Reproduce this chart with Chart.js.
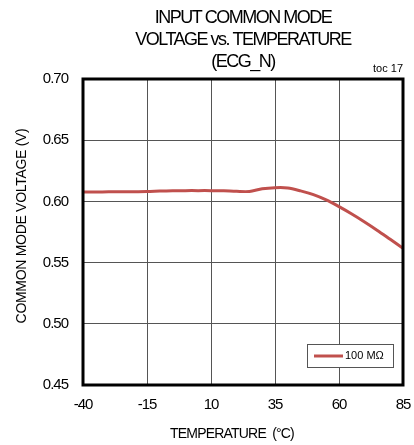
<!DOCTYPE html>
<html>
<head>
<meta charset="utf-8">
<script src="https://cdn.jsdelivr.net/npm/chart.js@4.4.1/dist/chart.umd.min.js"></script>
<style>
  html, body { margin: 0; padding: 0; background: #fff; }
  #wrap { width: 414px; height: 445px; }
</style>
</head>
<body>
<div id="wrap"><canvas id="chart" width="414" height="445"></canvas></div>
<script>
// ---- data ----
const titleLines = ['INPUT COMMON MODE', 'VOLTAGE vs. TEMPERATURE', '(ECG_N)'];
const tocLabel = 'toc 17';
const xTitle = 'TEMPERATURE  (°C)';
const yTitle = 'COMMON MODE VOLTAGE (V)';
const seriesLabel = '100 MΩ';

const xTicks = [-40, -15, 10, 35, 60, 85];
const yTicks = [0.45, 0.50, 0.55, 0.60, 0.65, 0.70];

// temperature (°C)
const temps = [-40, -35, -30, -25, -20, -15, -10, -5, 0, 5, 10, 15, 20, 25,
               30, 35, 40, 45, 50, 55, 60, 65, 70, 75, 80, 85];
// common mode voltage (V)
const vcm = [0.6077, 0.6077, 0.6078, 0.6078, 0.6079, 0.6080, 0.6084, 0.6087,
             0.6088, 0.6088, 0.6088, 0.6086, 0.6082, 0.6081, 0.6103, 0.6112,
             0.6110, 0.6086, 0.6055, 0.6012, 0.5957, 0.5897, 0.5832, 0.5763,
             0.5690, 0.5617];

const FONT = '"Liberation Sans", Arial, sans-serif';
const LINE_COLOR = '#c0504d';

// texte avec espacement serré (police condensée dans l'original)
function text(ctx, str, x, y, size, spacing, align) {
  ctx.save();
  ctx.font = size + 'px ' + FONT;
  ctx.letterSpacing = spacing + 'px';
  ctx.fillStyle = '#000';
  ctx.textAlign = align || 'center';
  ctx.textBaseline = 'middle';
  ctx.fillText(str, x, y);
  ctx.restore();
}

const decor = {
  id: 'decor',
  beforeDraw(chart) {
    chart.ctx.letterSpacing = '-1px'; // tick labels
  },
  afterDatasetsDraw(chart) {
    const { ctx, chartArea: a } = chart;
    ctx.save();
    ctx.strokeStyle = '#000';
    ctx.lineWidth = 3;
    ctx.strokeRect(a.left, a.top, a.right - a.left, a.bottom - a.top);
    ctx.restore();
  },
  afterDraw(chart) {
    const { ctx, chartArea: a } = chart;
    const cx = (a.left + a.right) / 2;

    // titre
    text(ctx, titleLines[0], cx, 18, 18, -1.5);
    text(ctx, titleLines[1], cx, 40, 18, -1.5);
    text(ctx, titleLines[2], cx, 62, 18, -1.5);
    text(ctx, tocLabel, a.right, 69, 11, 0, 'right');

    // axis titles
    text(ctx, xTitle, 232, 434, 14, -0.8);
    ctx.save();
    ctx.translate(22, 226);
    ctx.rotate(-Math.PI / 2);
    text(ctx, yTitle, 0, 0, 14, -0.3);
    ctx.restore();

    // legend inside plot
    const ds = chart.data.datasets[0];
    const bx = a.right - 96, by = a.bottom - 41, bw = 86, bh = 23;
    ctx.save();
    ctx.fillStyle = '#fff';
    ctx.fillRect(bx, by, bw, bh);
    ctx.strokeStyle = '#555';
    ctx.lineWidth = 1;
    ctx.strokeRect(bx + 0.5, by + 0.5, bw, bh);
    ctx.strokeStyle = ds.borderColor;
    ctx.lineWidth = 3;
    ctx.beginPath();
    ctx.moveTo(bx + 7, by + 12);
    ctx.lineTo(bx + 36, by + 12);
    ctx.stroke();
    ctx.restore();
    text(ctx, ds.label, bx + 38, by + 12, 11, 0, 'left');
  }
};

new Chart(document.getElementById('chart'), {
  type: 'line',
  data: {
    datasets: [{
      label: seriesLabel,
      data: temps.map((t, i) => ({ x: t, y: vcm[i] })),
      borderColor: LINE_COLOR,
      borderWidth: 3,
      pointRadius: 0,
      tension: 0.3,
      fill: false
    }]
  },
  options: {
    responsive: false,
    animation: false,
    devicePixelRatio: 1,
    layout: { padding: { top: 79, right: 11, left: 0, bottom: 0 } },
    plugins: {
      legend: { display: false },
      title: { display: false },
      tooltip: { enabled: false }
    },
    scales: {
      x: {
        type: 'linear',
        min: -40,
        max: 85,
        afterBuildTicks: s => { s.ticks = xTicks.map(v => ({ value: v })); },
        // no label overflow padding: plot edges fixed by layout padding
        afterFit: s => { s.height = 60; s.paddingLeft = 0; s.paddingRight = 0; },
        ticks: { color: '#000', font: { family: FONT, size: 15 }, padding: 11 },
        grid: { color: '#555', lineWidth: 1, drawTicks: false },
        border: { display: false }
      },
      y: {
        min: 0.45,
        max: 0.70,
        afterBuildTicks: s => { s.ticks = yTicks.map(v => ({ value: v })); },
        afterFit: s => { s.width = 83; },
        ticks: {
          color: '#000',
          font: { family: FONT, size: 15 },
          padding: 15,
          callback: v => v.toFixed(2)
        },
        grid: { color: '#555', lineWidth: 1, drawTicks: false },
        border: { display: false }
      }
    }
  },
  plugins: [decor]
});
</script>
</body>
</html>
